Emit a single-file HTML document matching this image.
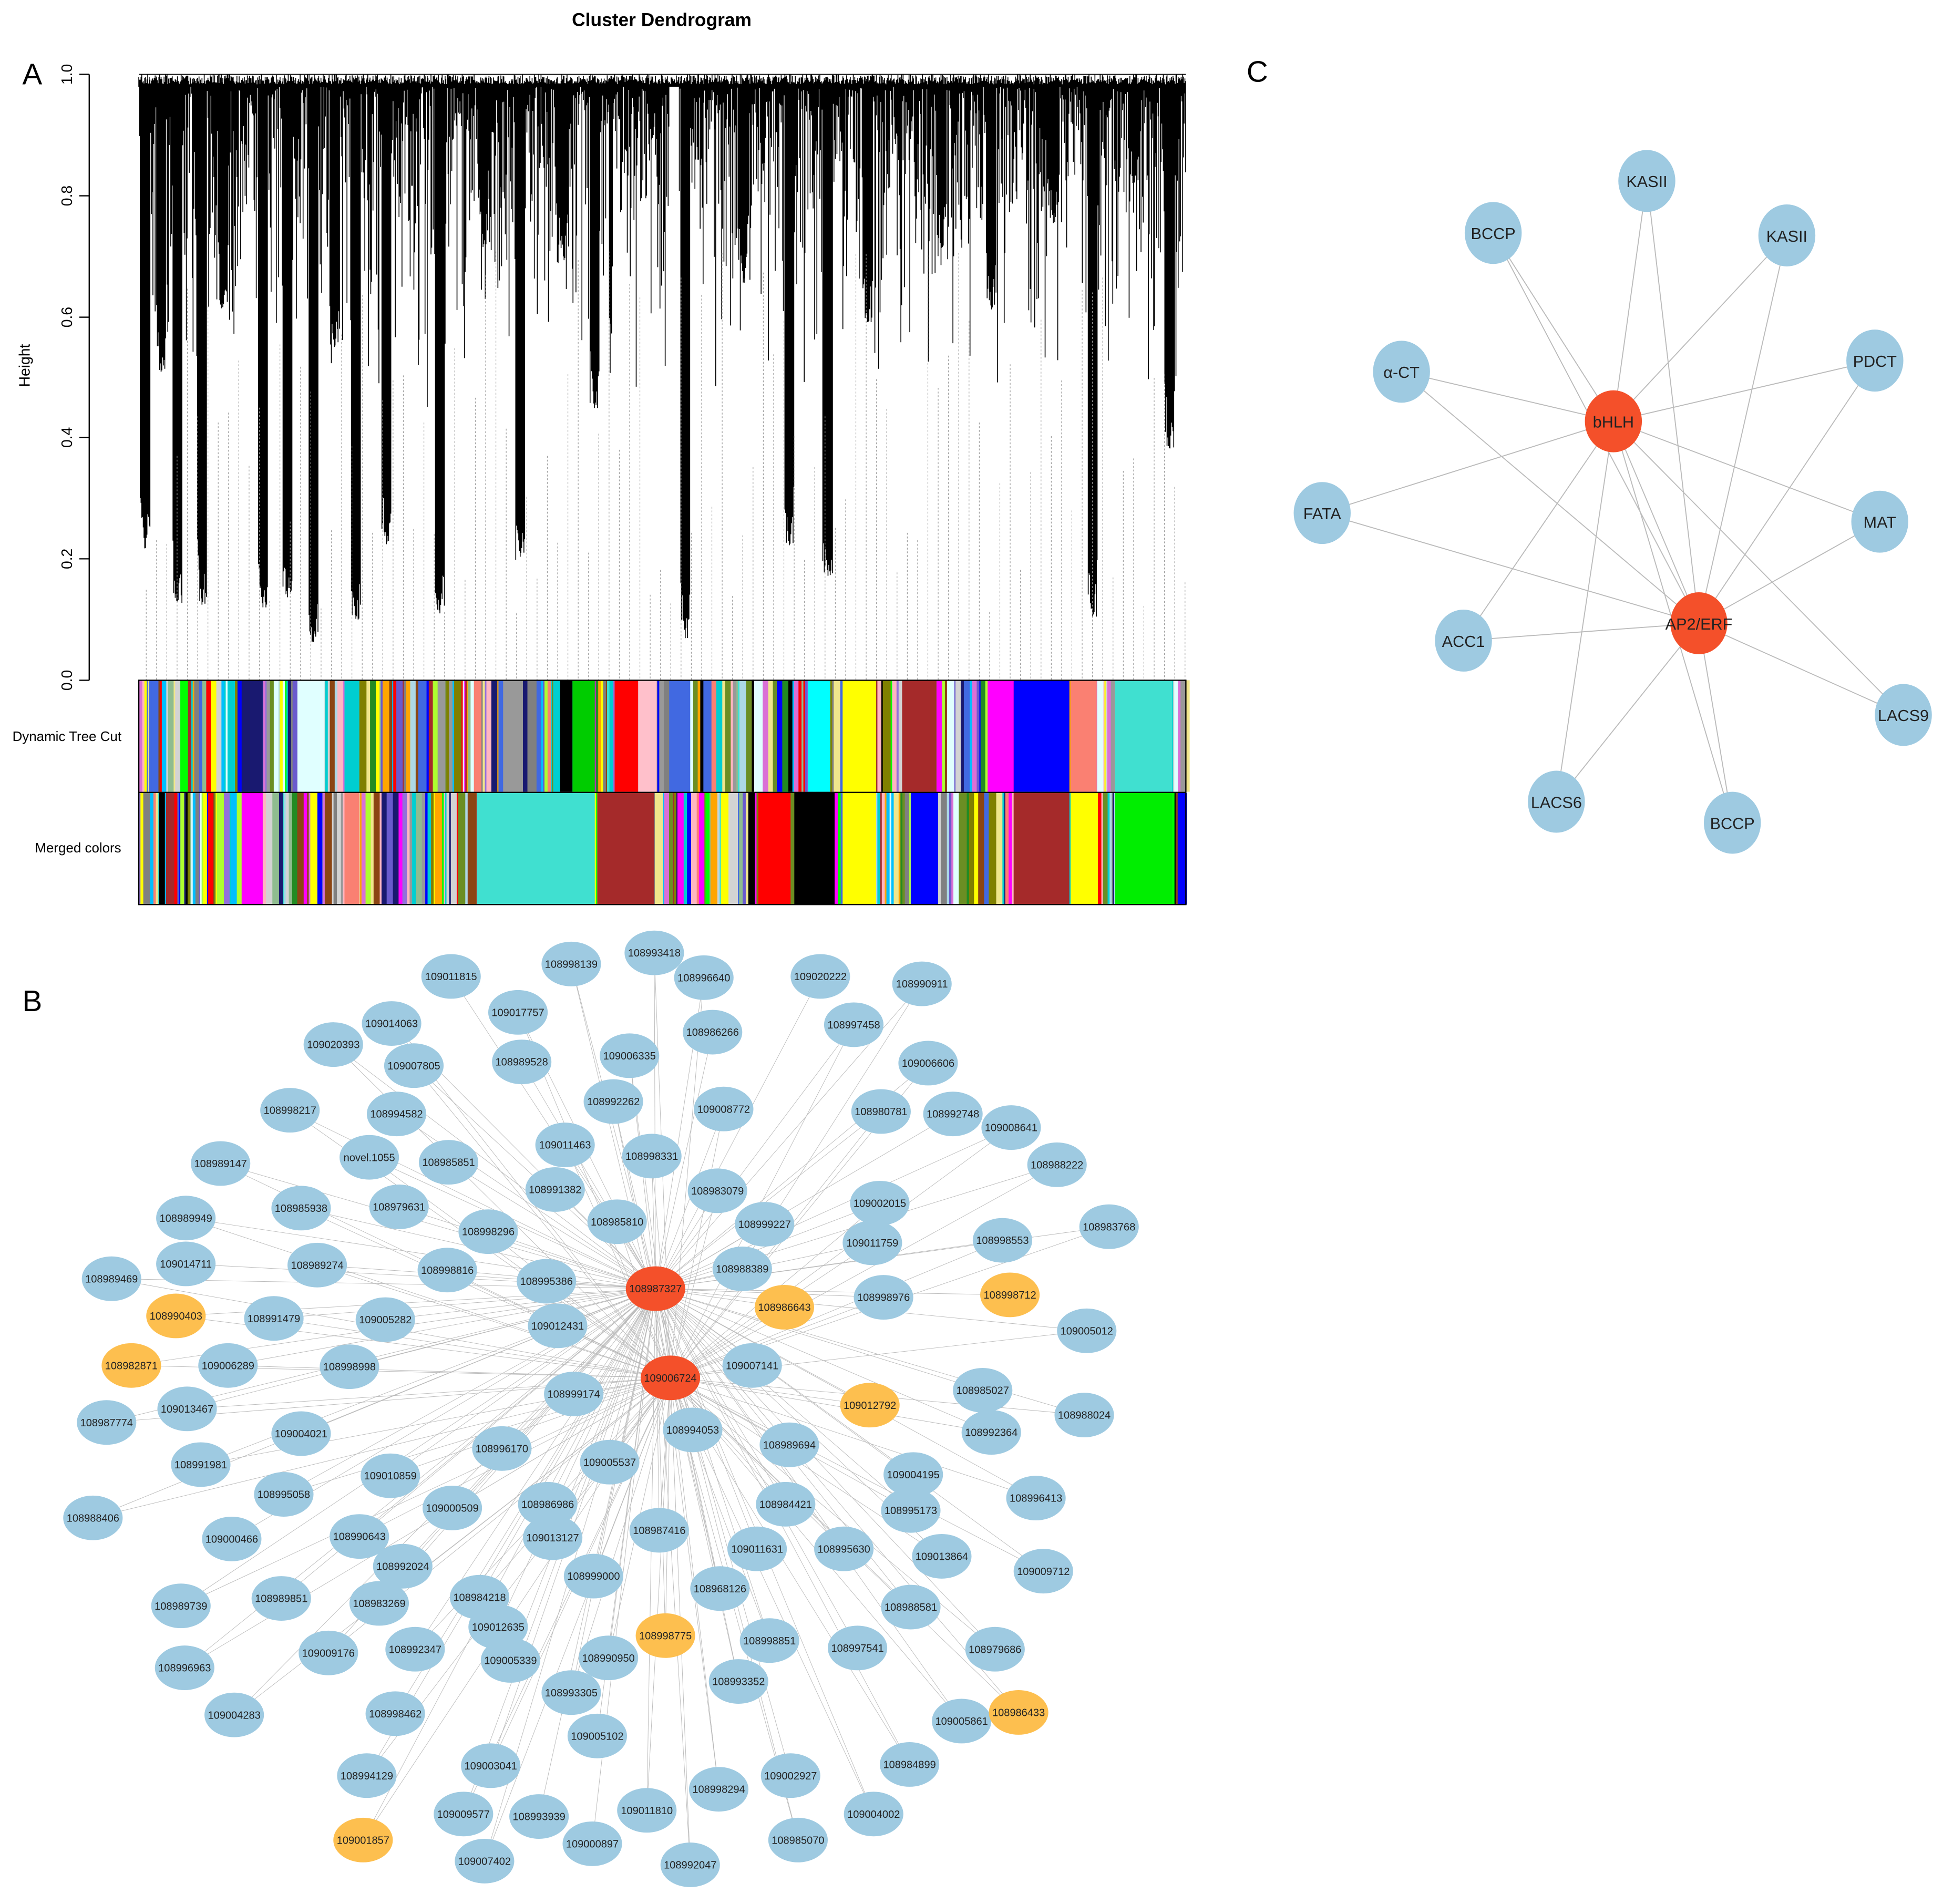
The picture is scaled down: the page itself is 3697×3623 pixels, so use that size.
<!DOCTYPE html>
<html><head><meta charset="utf-8"><style>
html,body{margin:0;padding:0;background:#fff;}
svg{display:block;}
text{font-family:"Liberation Sans",sans-serif;}
</style></head><body>
<svg id="s" xmlns="http://www.w3.org/2000/svg" width="3697" height="3623" viewBox="0 0 1568 1536.6">
<rect width="1568" height="1537" fill="#fff"/>
<text x="534" y="21" font-size="15" font-weight="bold" text-anchor="middle">Cluster Dendrogram</text>
<text x="18" y="68" font-size="24" font-family="Liberation Serif">A</text>
<text x="18" y="816" font-size="24" font-family="Liberation Serif">B</text>
<text x="1006" y="66" font-size="24" font-family="Liberation Serif">C</text>
<g id="dend"></g>
<g id="axis" stroke="#000" stroke-width="1">
<line x1="72" y1="60" x2="72" y2="549"/>
<line x1="64" y1="60" x2="72" y2="60"/><line x1="64" y1="158" x2="72" y2="158"/>
<line x1="64" y1="256" x2="72" y2="256"/><line x1="64" y1="353" x2="72" y2="353"/>
<line x1="64" y1="451" x2="72" y2="451"/><line x1="64" y1="549" x2="72" y2="549"/>
</g>
<g font-size="12">
<text transform="translate(58,60) rotate(-90)" text-anchor="middle">1.0</text>
<text transform="translate(58,158) rotate(-90)" text-anchor="middle">0.8</text>
<text transform="translate(58,256) rotate(-90)" text-anchor="middle">0.6</text>
<text transform="translate(58,353) rotate(-90)" text-anchor="middle">0.4</text>
<text transform="translate(58,451) rotate(-90)" text-anchor="middle">0.2</text>
<text transform="translate(58,549) rotate(-90)" text-anchor="middle">0.0</text>
<text transform="translate(24,295) rotate(-90)" text-anchor="middle">Height</text>
<text x="54" y="598" text-anchor="middle" font-size="11">Dynamic Tree Cut</text>
<text x="63" y="688" text-anchor="middle" font-size="11">Merged colors</text>
</g>
<g id="bands"></g>
<g id="cedges" stroke="#bbb" stroke-width="0.8"></g>
<g id="cnodes"></g>
<g id="bedges" stroke="#aaa" stroke-width="0.4" opacity="0.8"></g>
<g id="bnodes"></g>
</svg>
<script>
var NS="http://www.w3.org/2000/svg";
function el(p,t,a,txt){var e=document.createElementNS(NS,t);for(var k in a)e.setAttribute(k,a[k]);if(txt!==undefined)e.textContent=txt;document.getElementById(p).appendChild(e);return e;}
var seed=7;function r(){seed=(seed*16807)%2147483647;return (seed-1)/2147483646;}
// dendrogram
var deep=[[117,445],[143,487],[163,488],[212,492],[232,482],[253,518],[287,500],[312,440],[355,495],[420,452],[480,330],[553,515],[637,440],[668,465],[882,500],[944,362],[130,300],[180,250],[270,280],[390,200],[455,210],[600,230],[700,260],[760,200],[800,250],[850,180],[915,150]];
var d="";
for(var x=112;x<=957;x+=0.6){
  var b=70+r()*r()*260;
  for(var i=0;i<deep.length;i++){var dx=Math.abs(x-deep[i][0]);if(dx<4){b=Math.max(b,deep[i][1]-dx*15*r());}}
  if(x>540&&x<548)b=Math.min(b,70);
  var t=60+r()*8;
  d+="M"+x.toFixed(1)+" "+t.toFixed(1)+"V"+b.toFixed(1);
}
d+="M112 60H957";
el("dend","path",{d:d,stroke:"#000","stroke-width":"0.7",fill:"none"});
var dd="";
for(var x=118;x<957;x+=8.3){dd+="M"+x.toFixed(1)+" "+(200+r()*300).toFixed(0)+"V549";}
el("dend","path",{d:dd,stroke:"#999","stroke-width":"0.5","stroke-dasharray":"1.5,1.5",fill:"none"});
// bands
var pal=["#999","#8fbc8f","#f0e68c","#adff2f","#9370db","#e0ffff","#ffa500","#8b4513","#00ced1","#191970","#da70d6","#ff00ff","#808000","#add8e6","#fa8072","#6b8e23","#4169e1","#d3d3d3","#ffb6c1","#228b22","#a52a2a","#00bfff","#ffff00","#808080","#000","#00ff00","#40e0d0","#0000ff","#ff0000","#6a5acd"];
function band(y,h,blocks){
  var x=112;
  while(x<957){var w=0.8+r()*r()*7;var c=pal[Math.floor(r()*pal.length)];el("bands","rect",{x:x,y:y,width:w+0.3,height:h,fill:c});x+=w;}
  blocks.forEach(function(b){el("bands","rect",{x:b[0],y:y,width:b[1]-b[0],height:h,fill:b[2]});});
}
band(549,90,[[818,863,"#0000ff"],[900,946,"#40e0d0"],[864,885,"#fa8072"],[680,707,"#ffff00"],[728,755,"#a52a2a"],[797,818,"#ff00ff"],[652,670,"#00ffff"],[496,515,"#ff0000"],[515,530,"#ffc0cb"],[540,557,"#4169e1"],[406,422,"#999"],[452,462,"#000"],[462,480,"#00cc00"],[195,212,"#191970"],[240,262,"#e0ffff"],[278,290,"#00ced1"]]);
band(640,90,[[385,480,"#40e0d0"],[482,528,"#a52a2a"],[612,638,"#ff0000"],[641,672,"#000"],[680,707,"#ffff00"],[735,757,"#0000ff"],[818,863,"#a52a2a"],[864,886,"#ffff00"],[900,946,"#00ee00"],[195,212,"#ff00ff"],[278,290,"#fa8072"]]);
el("bands","rect",{x:112,y:549,width:845,height:181,fill:"none",stroke:"#000","stroke-width":"1"});
el("bands","line",{x1:112,y1:639.5,x2:957,y2:639.5,stroke:"#000","stroke-width":"1"});
// panel C
var C=[["KASII",1329,146],["BCCP",1205,188],["KASII",1442,190],["PDCT",1513,291],["α-CT",1131,300],["FATA",1067,414],["MAT",1517,421],["ACC1",1181,517],["LACS9",1536,577],["LACS6",1256,647],["BCCP",1398,664]];
var h1=[1302,340],h2=[1371,503];
C.forEach(function(n){el("cedges","line",{x1:h1[0],y1:h1[1],x2:n[1],y2:n[2]});el("cedges","line",{x1:h2[0],y1:h2[1],x2:n[1],y2:n[2]});});
el("cedges","line",{x1:h1[0],y1:h1[1],x2:h2[0],y2:h2[1]});
C.forEach(function(n){el("cnodes","ellipse",{cx:n[1],cy:n[2],rx:23,ry:25,fill:"#9ecae1"});el("cnodes","text",{x:n[1],y:n[2]+5,"font-size":"13","text-anchor":"middle",fill:"#222"},n[0]);});
[["bHLH",h1],["AP2/ERF",h2]].forEach(function(n){el("cnodes","ellipse",{cx:n[1][0],cy:n[1][1],rx:23,ry:25,fill:"#f4502a"});el("cnodes","text",{x:n[1][0],y:n[1][1]+5,"font-size":"13","text-anchor":"middle",fill:"#222"},n[0]);});
// panel B
var B=`109011815 364 788;108998139 461 778;108993418 528 769;108996640 568 789;109020222 662 788;108990911 744 794;109014063 316 826;109017757 418 817;108986266 575 833;108997458 689 827;109020393 269 843;109007805 334 860;108989528 421 857;109006335 508 852;109006606 749 858;108998217 234 896;108994582 320 899;108992262 495 889;109008772 584 895;108980781 711 897;108992748 769 899;109008641 816 910;108989147 178 939;novel.1055 298 934;108985851 362 938;109011463 456 924;108998331 526 933;108988222 853 940;108991382 448 960;108983079 579 961;109002015 710 971;108985938 243 975;108979631 322 974;108989949 150 983;108998296 394 994;108985810 498 986;108999227 617 988;109011759 704 1003;108998553 809 1001;108983768 895 990;109014711 150 1020;108989274 256 1021;108998816 361 1025;108995386 441 1034;108988389 599 1024;108989469 90 1032;108990403 142 1062 o;108991479 221 1064;109005282 311 1065;109012431 450 1070;108986643 633 1055 o;108998976 713 1047;108998712 815 1045 o;109005012 877 1074;108982871 106 1102 o;109006289 184 1102;108998998 282 1103;109007141 607 1102;108999174 463 1125;109012792 702 1134 o;108985027 793 1122;108988024 875 1142;109013467 151 1137;108987774 86 1148;109004021 243 1157;108994053 559 1154;108989694 637 1166;108992364 800 1156;108996170 405 1169;109005537 492 1180;108991981 162 1182;109010859 315 1191;109004195 737 1190;108995058 229 1206;108996413 836 1209;109000509 365 1217;108986986 442 1214;108984421 634 1214;108995173 735 1219;108988406 75 1225;109000466 187 1242;108990643 290 1240;109013127 446 1241;108987416 532 1235;109011631 611 1250;108995630 681 1250;109013864 760 1256;109009712 842 1268;108992024 325 1264;108999000 479 1272;108968126 581 1282;108989739 146 1296;108989851 227 1290;108983269 306 1294;108984218 387 1289;108988581 735 1297;109012635 402 1313;108998775 537 1320 o;108998851 621 1324;108992347 335 1331;108997541 692 1330;108979686 803 1331;108996963 149 1346;109009176 265 1334;109005339 412 1340;108990950 491 1338;108993352 596 1357;108993305 461 1366;108998462 319 1383;109004283 189 1384;109005861 776 1389;108986433 822 1382 o;109005102 482 1401;109003041 396 1425;108984899 734 1424;108994129 296 1433;109002927 638 1433;108998294 580 1444;109011810 522 1461;109009577 374 1464;108993939 435 1466;109004002 705 1464;109001857 293 1485 o;108985070 644 1485;109000897 478 1488;109007402 391 1502;108992047 557 1505`.split(";");
var H1=[529,1040],H2=[541,1112];
var nodes=B.map(function(s){var p=s.trim().split(" ");return [p[0],+p[1],+p[2],p[3]==="o"];});
nodes.forEach(function(n,i){el("bedges","line",{x1:H1[0],y1:H1[1],x2:n[1],y2:n[2]});if(i%4!==0)el("bedges","line",{x1:H2[0],y1:H2[1],x2:n[1],y2:n[2]});});
nodes.forEach(function(n){el("bnodes","ellipse",{cx:n[1],cy:n[2],rx:24,ry:18,fill:n[3]?"#fdbf4f":"#9ecae1"});el("bnodes","text",{x:n[1],y:n[2]+3,"font-size":"8.5","text-anchor":"middle",fill:"#222"},n[0]);});
[["108987327",H1],["109006724",H2]].forEach(function(n){el("bnodes","ellipse",{cx:n[1][0],cy:n[1][1],rx:24,ry:18,fill:"#f4502a"});el("bnodes","text",{x:n[1][0],y:n[1][1]+3,"font-size":"8.5","text-anchor":"middle",fill:"#222"},n[0]);});
</script>
</body></html>
